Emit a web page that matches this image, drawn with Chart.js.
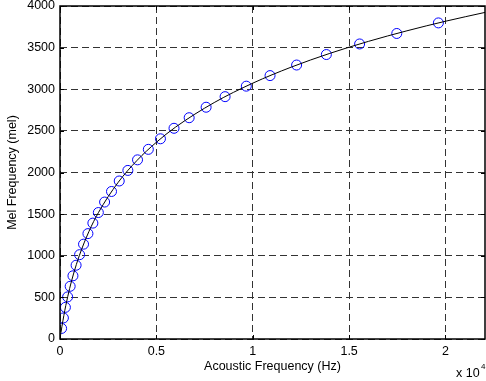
<!DOCTYPE html>
<html>
<head>
<meta charset="utf-8">
<script src="https://cdn.jsdelivr.net/npm/chart.js@4"></script>
<style>
  html, body { margin: 0; padding: 0; background: #fff; }
  #wrap { width: 486px; height: 381px; }
</style>
</head>
<body>
<div id="wrap"><canvas id="chart" width="486" height="381"></canvas></div>
<script>
// black curve: acoustic frequency (Hz) vs mel frequency
const curveHz = [0, 50, 100, 200, 300, 500, 700, 1000, 1500, 2000, 3000, 4000, 5000, 6000, 8000, 10000, 12000, 14000, 16000, 18000, 20000, 22050];
const curveMel = [0, 78, 150, 283, 402, 607, 781, 1000, 1291, 1521, 1876, 2146, 2363, 2546, 2840, 3073, 3266, 3431, 3575, 3702, 3817, 3923];

// blue circles (filter centres)
const markHz = [83, 176, 280, 396, 527, 672, 835, 1017, 1221, 1449, 1705, 1990, 2314, 2672, 3073, 3521, 4022, 4583, 5211, 5915, 6701, 7581, 8565, 9666, 10898, 12276, 13819, 15545, 17473, 19632];
const markMel = [127, 253, 380, 506, 633, 759, 886, 1013, 1139, 1266, 1392, 1519, 1645, 1772, 1898, 2025, 2152, 2278, 2405, 2531, 2658, 2784, 2911, 3037, 3164, 3291, 3417, 3544, 3670, 3797];

const xTicks = [0, 5000, 10000, 15000, 20000];
const yTicks = [0, 500, 1000, 1500, 2000, 2500, 3000, 3500, 4000];

const FONT = "'Liberation Sans', Arial, Helvetica, sans-serif";
const FSIZE = 12.5;

// box round the axes, inward tick marks and the "x 10^4" note
const matlabBox = {
    id: 'matlabBox',
    afterDraw(chart) {
        const ctx = chart.ctx;
        const a = chart.chartArea;
        const xs = chart.scales.x, ys = chart.scales.y;
        ctx.save();
        ctx.strokeStyle = '#000';
        ctx.lineWidth = 1;
        ctx.setLineDash([]);
        ctx.beginPath();
        for (let v of xTicks) {
            const px = Math.round(xs.getPixelForValue(v)) + 0.5;
            ctx.moveTo(px, a.bottom); ctx.lineTo(px, a.bottom - 4);
            ctx.moveTo(px, a.top); ctx.lineTo(px, a.top + 4);
        }
        for (let v of yTicks) {
            const py = Math.round(ys.getPixelForValue(v)) + 0.5;
            ctx.moveTo(a.left, py); ctx.lineTo(a.left + 4, py);
            ctx.moveTo(a.right, py); ctx.lineTo(a.right - 4, py);
        }
        ctx.stroke();
        ctx.lineWidth = 1.5;
        ctx.strokeRect(a.left, a.top, a.right - a.left, a.bottom - a.top);

        ctx.fillStyle = '#000';
        ctx.textBaseline = 'middle';
        ctx.textAlign = 'left';
        ctx.font = FSIZE + 'px ' + FONT;
        ctx.fillText('x 10', 456, 374);
        ctx.font = '8px ' + FONT;
        ctx.fillText('4', 481, 367);
        ctx.restore();
    }
};

new Chart(document.getElementById('chart'), {
    type: 'scatter',
    data: {
        datasets: [{
            type: 'line',
            label: 'mel curve',
            data: curveHz.map((f, i) => ({ x: f, y: curveMel[i] })),
            borderColor: '#000',
            borderWidth: 1,
            pointRadius: 0,
            cubicInterpolationMode: 'monotone',
            fill: false
        }, {
            label: 'centres',
            data: markHz.map((f, i) => ({ x: f, y: markMel[i] })),
            pointStyle: 'circle',
            pointRadius: 5,
            pointBorderColor: '#0000ff',
            pointBackgroundColor: 'rgba(0,0,0,0)',
            pointBorderWidth: 1,
            showLine: false
        }]
    },
    options: {
        responsive: false,
        animation: false,
        layout: { autoPadding: false, padding: { top: 6, right: 1, left: 0, bottom: 0 } },
        plugins: { legend: { display: false }, tooltip: { enabled: false } },
        scales: {
            x: {
                type: 'linear',
                min: 0,
                max: 22050,
                afterBuildTicks: s => { s.ticks = xTicks.map(v => ({ value: v })); },
                afterFit: s => { s.height = 42; s.paddingLeft = 0; s.paddingRight = 0; },
                ticks: {
                    padding: 5,
                    color: '#000',
                    font: { family: FONT, size: FSIZE },
                    maxRotation: 0,
                    callback: v => String(v / 10000)
                },
                grid: {
                    color: '#333',
                    lineWidth: 1,
                    drawTicks: false
                },
                border: { display: false, dash: [7, 4] },
                title: {
                    display: true,
                    text: 'Acoustic Frequency (Hz)',
                    color: '#000',
                    font: { family: FONT, size: FSIZE },
                    padding: { top: 0, bottom: 7 }
                }
            },
            y: {
                type: 'linear',
                min: 0,
                max: 4000,
                afterBuildTicks: s => { s.ticks = yTicks.map(v => ({ value: v })); },
                afterFit: s => { s.width = 60; s.paddingTop = 0; s.paddingBottom = 0; },
                ticks: {
                    padding: 5,
                    color: '#000',
                    font: { family: FONT, size: FSIZE },
                    callback: v => String(v)
                },
                grid: {
                    color: '#333',
                    lineWidth: 1,
                    drawTicks: false
                },
                border: { display: false, dash: [7, 4] },
                title: {
                    display: true,
                    text: 'Mel Frequency (mel)',
                    color: '#000',
                    font: { family: FONT, size: FSIZE },
                    padding: { top: 5, bottom: 0 }
                }
            }
        }
    },
    plugins: [matlabBox]
});
</script>
</body>
</html>
